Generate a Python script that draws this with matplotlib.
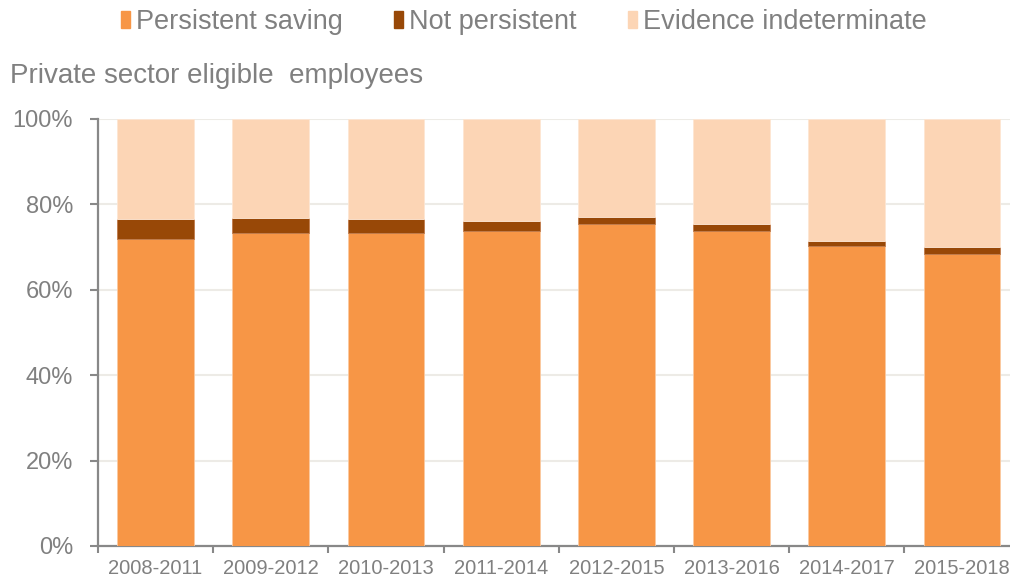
import matplotlib
matplotlib.use("Agg")
import matplotlib.pyplot as plt
from matplotlib.patches import Patch

periods = ["2008-2011", "2009-2012", "2010-2013", "2011-2014",
           "2012-2015", "2013-2016", "2014-2017", "2015-2018"]
persistent = [71.8, 73.2, 73.2, 73.8, 75.3, 73.8, 70.3, 68.5]
not_persistent = [4.7, 3.6, 3.3, 2.4, 1.8, 1.5, 1.2, 1.5]
indeterminate = [100 - p - n for p, n in zip(persistent, not_persistent)]
yticks = [0, 20, 40, 60, 80, 100]

plt.rcParams["font.family"] = ["Liberation Sans", "DejaVu Sans"]

c_pers = "#F79646"
c_np = "#984807"
c_ind = "#FCD5B5"
txt = "#808080"

fig = plt.figure(figsize=(10.10, 5.79), dpi=100)
ax = fig.add_axes([98 / 1010, 33 / 579, 921.6 / 1010, 427 / 579])

x = range(len(periods))
w = 0.665
ax.bar(x, persistent, w, color=c_pers, edgecolor="#FBC9A0", linewidth=0.6, zorder=3)
ax.bar(x, not_persistent, w, bottom=persistent, color=c_np, edgecolor="#C07A4A", linewidth=0.6, zorder=3)
bot2 = [p + n for p, n in zip(persistent, not_persistent)]
ax.bar(x, indeterminate, w, bottom=bot2, color=c_ind, edgecolor="#FDE6D3", linewidth=0.6, zorder=3)

ax.set_xlim(-0.5, len(periods) - 0.5)
ax.set_ylim(0, 100)
ax.set_yticks(yticks)
ax.set_yticklabels([f"{v}%" for v in yticks], fontsize=17, color=txt)
ax.yaxis.grid(True, color="#EDEBE6", linewidth=1.5, zorder=0)
ax.set_axisbelow(True)

ax.set_xticks(list(x))
ax.set_xticklabels(periods, fontsize=14.5, color=txt)
ax.set_xticks([i - 0.5 for i in range(len(periods) + 1)], minor=True)
ax.tick_params(axis="x", which="major", length=0, pad=9)
ax.tick_params(axis="x", which="minor", length=5, color="#888888", width=1.5, direction="out")
ax.tick_params(axis="y", length=6, color="#888888", width=1.5, pad=12)

for s in ["top", "right"]:
    ax.spines[s].set_visible(False)
for s in ["left", "bottom"]:
    ax.spines[s].set_color("#888888")
    ax.spines[s].set_linewidth(1.6)

fig.text(10 / 1010, 1 - 76 / 579, "Private sector eligible  employees",
         fontsize=20, color=txt, va="center", ha="left")

handles = [Patch(color=c_pers, label="Persistent saving"),
           Patch(color=c_np, label="Not persistent"),
           Patch(color=c_ind, label="Evidence indeterminate")]
fig.legend(handles=handles, loc="center", bbox_to_anchor=(524 / 1010, 1 - 22 / 579),
           ncol=3, frameon=False, fontsize=19.5, labelcolor=txt,
           handlelength=0.33, handleheight=0.6, handletextpad=0.22, columnspacing=1.9,
           borderpad=0, borderaxespad=0)

fig.savefig("out.png", dpi=100)
